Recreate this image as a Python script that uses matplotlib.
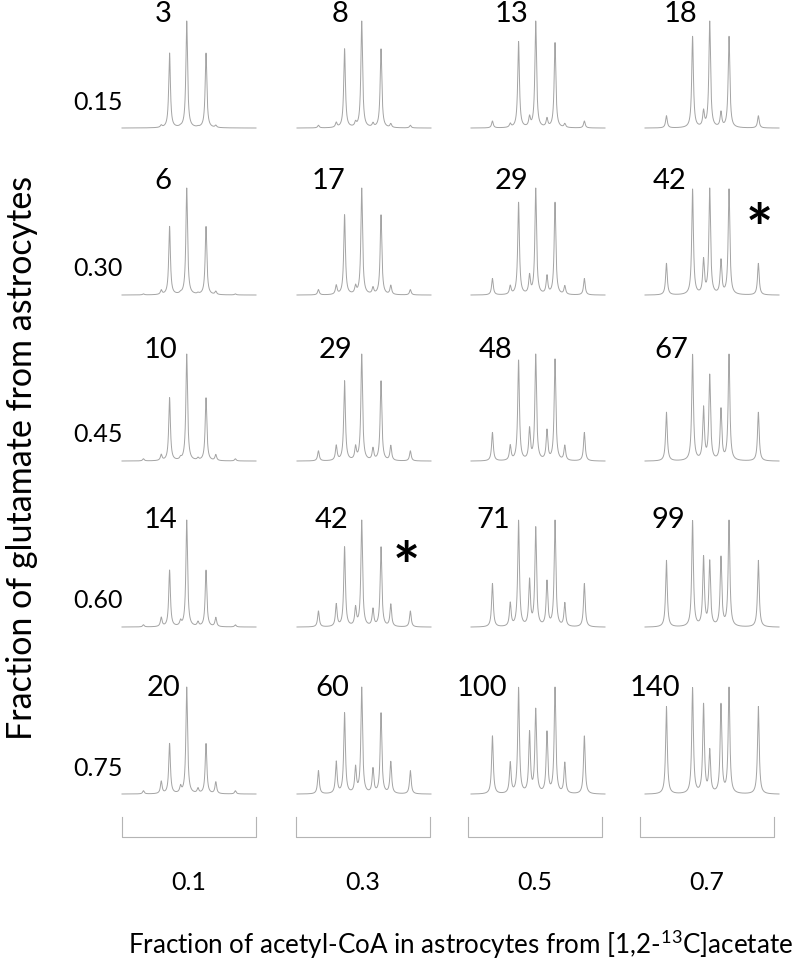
import matplotlib
matplotlib.use("Agg")
import matplotlib.pyplot as plt
import numpy as np

plt.rcParams['font.family'] = ['Lato', 'DejaVu Sans']
plt.rcParams['mathtext.fontset'] = 'custom'
plt.rcParams['mathtext.rm'] = 'Lato'

# acetyl-CoA fraction (columns) and glutamate fraction (rows)
col_labels = ['0.1', '0.3', '0.5', '0.7']
row_labels = ['0.15', '0.30', '0.45', '0.60', '0.75']

# numbers printed above each spectrum
panel_numbers = [
    ['3', '8', '13', '18'],
    ['6', '17', '29', '42'],
    ['10', '29', '48', '67'],
    ['14', '42', '71', '99'],
    ['20', '60', '100', '140'],
]
starred = [(1, 3), (3, 1)]

# multiplet line positions (fraction of the spectral window)
line_pos = [0.16, 0.293, 0.355, 0.437, 0.483, 0.567, 0.627, 0.70, 0.846]

# relative line heights, one list per panel
heights_015 = [
    [0.0, 0.02, 0.70, 0.005, 1.0, 0.005, 0.70, 0.02, 0.0],
    [0.025, 0.045, 0.74, 0.04, 1.0, 0.035, 0.74, 0.035, 0.025],
    [0.065, 0.035, 0.81, 0.09, 1.0, 0.08, 0.80, 0.035, 0.065],
    [0.115, 0.0, 0.86, 0.146, 1.0, 0.14, 0.86, 0.0, 0.115],
]
heights_030 = [
    [0.01, 0.04, 0.64, 0.01, 1.0, 0.01, 0.64, 0.03, 0.01],
    [0.05, 0.085, 0.75, 0.07, 1.0, 0.06, 0.75, 0.085, 0.05],
    [0.155, 0.08, 0.87, 0.17, 1.0, 0.17, 0.87, 0.08, 0.155],
    [0.30, 0.0, 1.0, 0.32, 1.0, 0.32, 1.0, 0.0, 0.30],
]
heights_045 = [
    [0.02, 0.055, 0.59, 0.02, 1.0, 0.02, 0.59, 0.055, 0.02],
    [0.095, 0.14, 0.75, 0.12, 1.0, 0.11, 0.75, 0.14, 0.095],
    [0.27, 0.14, 0.95, 0.29, 1.0, 0.28, 0.96, 0.14, 0.27],
    [0.46, 0.0, 1.0, 0.49, 0.80, 0.48, 1.0, 0.0, 0.46],
]
heights_060 = [
    [0.02, 0.085, 0.53, 0.045, 1.0, 0.04, 0.53, 0.085, 0.02],
    [0.15, 0.21, 0.75, 0.17, 1.0, 0.16, 0.75, 0.21, 0.15],
    [0.41, 0.22, 1.0, 0.43, 0.93, 0.42, 1.0, 0.22, 0.41],
    [0.63, 0.0, 1.0, 0.65, 0.61, 0.65, 1.0, 0.0, 0.63],
]
heights_075 = [
    [0.03, 0.115, 0.47, 0.06, 1.0, 0.045, 0.47, 0.11, 0.03],
    [0.22, 0.30, 0.76, 0.24, 1.0, 0.23, 0.76, 0.30, 0.22],
    [0.55, 0.29, 1.0, 0.57, 0.79, 0.575, 1.0, 0.29, 0.55],
    [0.83, 0.0, 1.0, 0.84, 0.40, 0.84, 1.0, 0.0, 0.83],
]
all_heights = [heights_015, heights_030, heights_045, heights_060, heights_075]

W, H = 800, 973
fig = plt.figure(figsize=(W / 100, H / 100), dpi=100)


def px_axes(x, y_top, w, h):
    return fig.add_axes([x / W, 1 - (y_top + h) / H, w / W, h / H])


def fig_text(x, y, s, **kw):
    fig.text(x / W, 1 - y / H, s, **kw)


# layout in pixels
spec_x = [122, 297, 471, 645]
spec_w = 134
spec_h = 107
base_y = [128, 295, 461, 627, 794]
num_dy = [114, 114, 111, 107, 106]
num_dx = [
    [41, 43, 40, 35],
    [41, 32, 40, 25],
    [39, 39, 25, 26],
    [39, 35, 22, 23],
    [41, 35, 11, 10],
]
gray = '#a4a4a4'
gamma = 0.0075
xs = np.linspace(0, 1, 3000)

for r in range(5):
    for c in range(4):
        ys = np.zeros_like(xs)
        for p, h in zip(line_pos, all_heights[r][c]):
            ys += h / (1 + ((xs - p) / gamma) ** 2)
        ys -= ys.min()
        ys /= ys.max()
        ax = px_axes(spec_x[c], base_y[r] - spec_h, spec_w, spec_h)
        ax.plot(xs, ys, color=gray, lw=0.7, clip_on=False)
        ax.set_xlim(0, 1)
        ax.set_ylim(0, 1)
        ax.axis('off')
        fig_text(spec_x[c] + num_dx[r][c], base_y[r] - num_dy[r], panel_numbers[r][c],
                 fontsize=21, ha='center', va='center')
    fig_text(123, base_y[r] - 26, row_labels[r], fontsize=18, ha='right', va='center')

star_xy = {(1, 3): (759, 212), (3, 1): (406, 551)}
for rc in starred:
    sx, sy = star_xy[rc]
    fig_text(sx, sy + 20, '*', fontsize=46, fontweight='bold', ha='center', va='center')

# brackets with column labels
bracket_x = [122, 296, 468, 640]
for c in range(4):
    ax = px_axes(bracket_x[c], 817, 134, 20)
    ax.plot([0, 0, 1, 1], [1, 0, 0, 1], color='#b4b4b4', lw=0.8, clip_on=False)
    ax.set_xlim(0, 1)
    ax.set_ylim(0, 1)
    ax.axis('off')
    fig_text(bracket_x[c] + 67, 883, col_labels[c], fontsize=18, ha='center', va='center')

fig_text(461, 944, r'Fraction of acetyl-CoA in astrocytes from [1,2-$^{13}$C]acetate',
         fontsize=18.7, ha='center', va='center')
fig_text(22, 458, 'Fraction of glutamate from astrocytes', fontsize=24.5,
         ha='center', va='center', rotation=90)

fig.savefig('out.png', dpi=100)
